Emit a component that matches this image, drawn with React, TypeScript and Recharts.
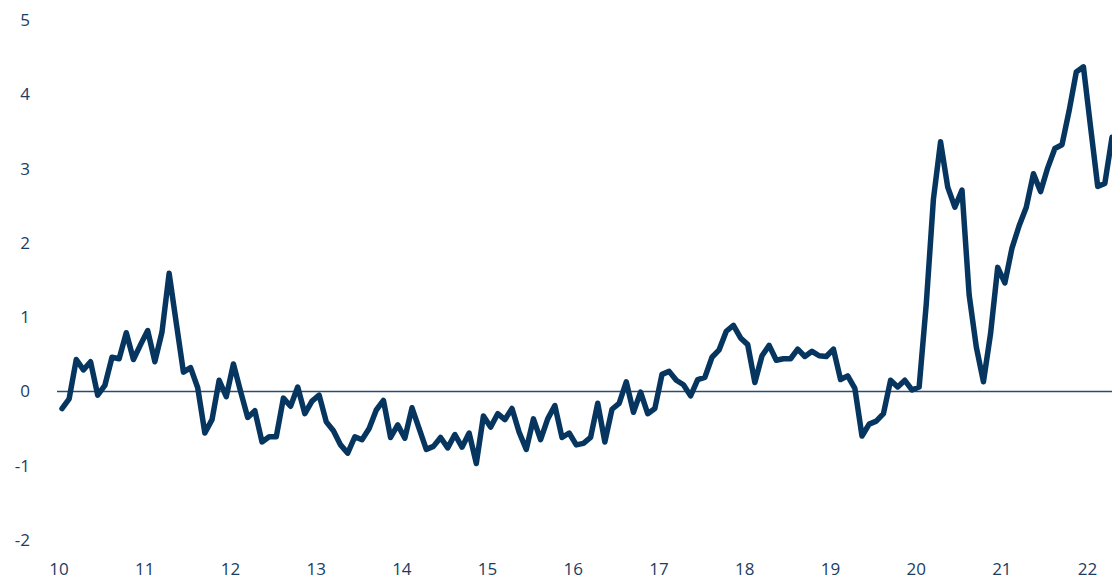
import React from 'react';
import { LineChart, Line, XAxis, YAxis, ReferenceLine } from 'recharts';

// Monthly values, Jan 2010 .. Apr 2022
const values: number[] = [
  // 2010
  -0.23, -0.1, 0.43, 0.29, 0.4, -0.05, 0.08, 0.46, 0.44, 0.79, 0.43, 0.63,
  // 2011
  0.82, 0.4, 0.8, 1.59, 0.92, 0.26, 0.32, 0.05, -0.56, -0.38, 0.15, -0.07,
  // 2012
  0.37, 0.0, -0.35, -0.26, -0.68, -0.61, -0.61, -0.09, -0.2, 0.06, -0.3, -0.13,
  // 2013
  -0.05, -0.41, -0.53, -0.72, -0.83, -0.61, -0.65, -0.5, -0.25, -0.12, -0.62, -0.45,
  // 2014
  -0.63, -0.22, -0.5, -0.78, -0.74, -0.62, -0.76, -0.58, -0.75, -0.56, -0.97, -0.33,
  // 2015
  -0.48, -0.3, -0.38, -0.23, -0.55, -0.78, -0.37, -0.65, -0.37, -0.19, -0.62, -0.56,
  // 2016
  -0.72, -0.7, -0.62, -0.16, -0.68, -0.24, -0.16, 0.13, -0.28, -0.01, -0.3, -0.23,
  // 2017
  0.23, 0.27, 0.15, 0.09, -0.06, 0.16, 0.19, 0.46, 0.56, 0.81, 0.89, 0.72,
  // 2018
  0.63, 0.12, 0.48, 0.62, 0.42, 0.44, 0.44, 0.57, 0.47, 0.54, 0.48, 0.47,
  // 2019
  0.57, 0.16, 0.21, 0.04, -0.6, -0.44, -0.4, -0.3, 0.15, 0.06, 0.15, 0.02,
  // 2020
  0.06, 1.18, 2.59, 3.36, 2.75, 2.48, 2.71, 1.3, 0.6, 0.13, 0.78, 1.67,
  // 2021
  1.46, 1.93, 2.23, 2.48, 2.93, 2.69, 3.01, 3.27, 3.32, 3.78, 4.3, 4.37,
  // 2022
  3.56, 2.76, 2.8, 3.42,
];

const yearTicks: number[] = [0, 12, 24, 36, 48, 60, 72, 84, 96, 108, 120, 132, 144];
const yearLabels: string[] = ['10', '11', '12', '13', '14', '15', '16', '17', '18', '19', '20', '21', '22'];
const valueTicks: number[] = [-2, -1, 0, 1, 2, 3, 4, 5];

const data = values.map((v, i) => ({ idx: i, value: v }));

const LINE_COLOR = '#06365f';
const TEXT_COLOR = '#1a3d63';
const FONT = '"Open Sans", "DejaVu Sans", sans-serif';

export default function App() {
  return (
    <div style={{ position: 'absolute', left: 0, top: 0, width: 1112, height: 581, background: '#ffffff' }}>
      <LineChart width={1112} height={581} data={data} margin={{ top: 20, right: 0, bottom: 0, left: 0 }}>
        <XAxis
          dataKey="idx"
          type="number"
          domain={[0, 147]}
          ticks={yearTicks}
          tickFormatter={(v: number) => yearLabels[yearTicks.indexOf(v)] ?? ''}
          padding={{ left: 5, right: 0 }}
          axisLine={false}
          tickLine={false}
          tickSize={0}
          tickMargin={23}
          height={41}
          interval={0}
          tick={{ fill: TEXT_COLOR, fontSize: 17, fontFamily: FONT, dx: -3 }}
        />
        <YAxis
          type="number"
          domain={[-2, 5]}
          ticks={valueTicks}
          axisLine={false}
          tickLine={false}
          tickSize={0}
          tickMargin={27}
          width={57}
          interval={0}
          tick={{ fill: TEXT_COLOR, fontSize: 17, fontFamily: FONT }}
        />
        <ReferenceLine y={0} stroke="#2a4c70" strokeWidth={1.5} />
        <Line
          type="linear"
          dataKey="value"
          stroke={LINE_COLOR}
          strokeWidth={5.5}
          strokeLinejoin="round"
          strokeLinecap="round"
          dot={false}
          activeDot={false}
          isAnimationActive={false}
        />
      </LineChart>
    </div>
  );
}
